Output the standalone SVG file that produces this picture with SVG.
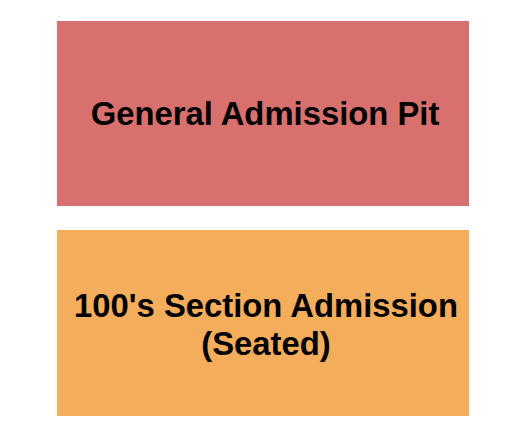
<svg xmlns="http://www.w3.org/2000/svg" width="525" height="444" viewBox="0 0 525 444">
<style>
.lbl{font-family:"Liberation Sans",Arial,sans-serif;font-weight:bold;font-size:32.8px;fill:#000;text-anchor:middle}
</style>
<rect width="525" height="444" fill="#ffffff"/>
<g id="ga-pit">
<rect x="57" y="21" width="412" height="185" fill="#D8706E"/>
<text class="lbl" x="265" y="125">General Admission Pit</text>
</g>
<g id="section-100">
<rect x="57" y="230" width="412" height="186" fill="#F4AD5A"/>
<text class="lbl" x="266" y="317">100's Section Admission</text>
<text class="lbl" x="266" y="355">(Seated)</text>
</g>
<g id="connectors"></g>
</svg>
